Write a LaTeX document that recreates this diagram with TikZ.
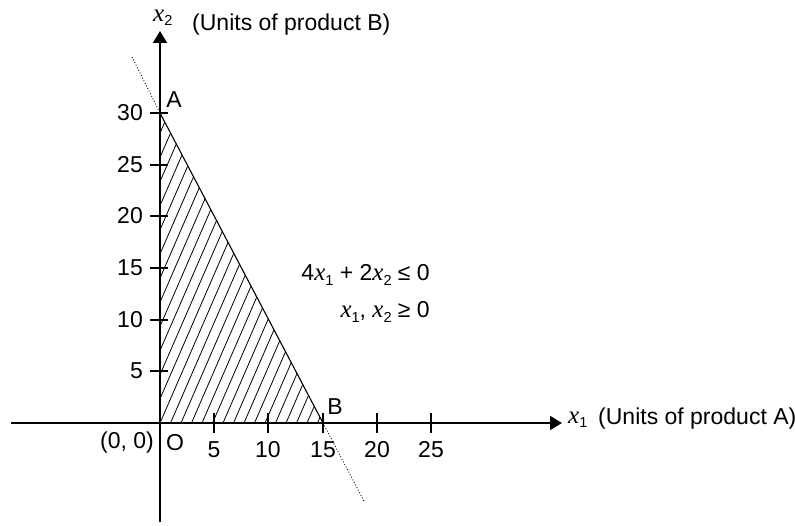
\documentclass[tikz,border=0pt]{standalone}
\usepackage{fontspec}
\setmainfont{Liberation Sans}
\newfontfamily\serifit{Liberation Serif}[ItalicFont=* Italic]
\usetikzlibrary{arrows.meta}
\newcommand{\vx}[1]{{\fontsize{25}{28}\selectfont\serifit\itshape x}\raisebox{-0.35ex}{\fontsize{14.5}{16}\selectfont #1}}
\begin{document}
\begin{tikzpicture}[x=1pt,y=-1pt,
  axis/.style={line width=1.7pt,-{Triangle[length=12pt,width=14pt]}},
  tickline/.style={line width=1.1pt},
  lbl/.style={inner sep=0pt,font=\fontsize{23}{27}\selectfont},
  hatch/.style={line width=0.8pt},
  bound/.style={line width=1.1pt},
  guide/.style={line width=0.9pt,dotted}]
\useasboundingbox (0,0) rectangle (795,526);
\coordinate (O) at (160,423);
\coordinate (A) at (160,113);
\coordinate (B) at (323,423);
\coordinate (xl) at (11,423);
\coordinate (xr) at (562,423);
\coordinate (yb) at (160,522);
\coordinate (yt) at (160,31);
\coordinate (d1) at (132,57);
\coordinate (d2) at (364,501);
% hatching
\begin{scope}
\clip (O) -- (A) -- (B) -- cycle;
\foreach \k in {-32,...,17}{
  \draw[hatch] ({160+10.5*\k},423) -- ({160+10.5*\k+310/2.3},113);
}
\end{scope}
\draw[bound] (A) -- (B);
\draw[guide] (d1) -- (A);
\draw[guide] (B) -- (d2);
% axes
\draw[axis] (xl) -- (xr);
\draw[axis] (yb) -- (yt);
% y ticks
\foreach \v/\yy in {5/371,10/320,15/268,20/216,25/165,30/113}{
  \draw[tickline] (150,\yy) -- (168,\yy);
  \node[lbl,anchor=east] (ty\v) at (143,\yy) {\v};
}
% x ticks
\foreach \v/\xx in {5/214,10/268,15/323,20/377,25/431}{
  \draw[tickline] (\xx,413) -- (\xx,433);
  \node[lbl] (tx\v) at (\xx,450) {\v};
}
\node[lbl] (lA) at (174,100) {A};
\node[lbl] (lB) at (335,407) {B};
\node[lbl] (lO) at (175,443) {O};
\node[lbl,anchor=east] (l00) at (154,443) {(0, 0)};
\node[lbl,anchor=west] (x2) at (153,18) {\vx{2}};
\node[lbl,anchor=west] (ub) at (192,25) {(Units of product B)};
\node[lbl,anchor=west] (x1) at (568,420) {\vx{1}};
\node[lbl,anchor=west] (ua) at (598,419) {(Units of product A)};
\node[lbl,anchor=east] (c1) at (430,275) {4\vx{1} + 2\vx{2} ≤ 0};
\node[lbl,anchor=east] (c2) at (430,312) {\vx{1}, \vx{2} ≥ 0};
\end{tikzpicture}
\end{document}
